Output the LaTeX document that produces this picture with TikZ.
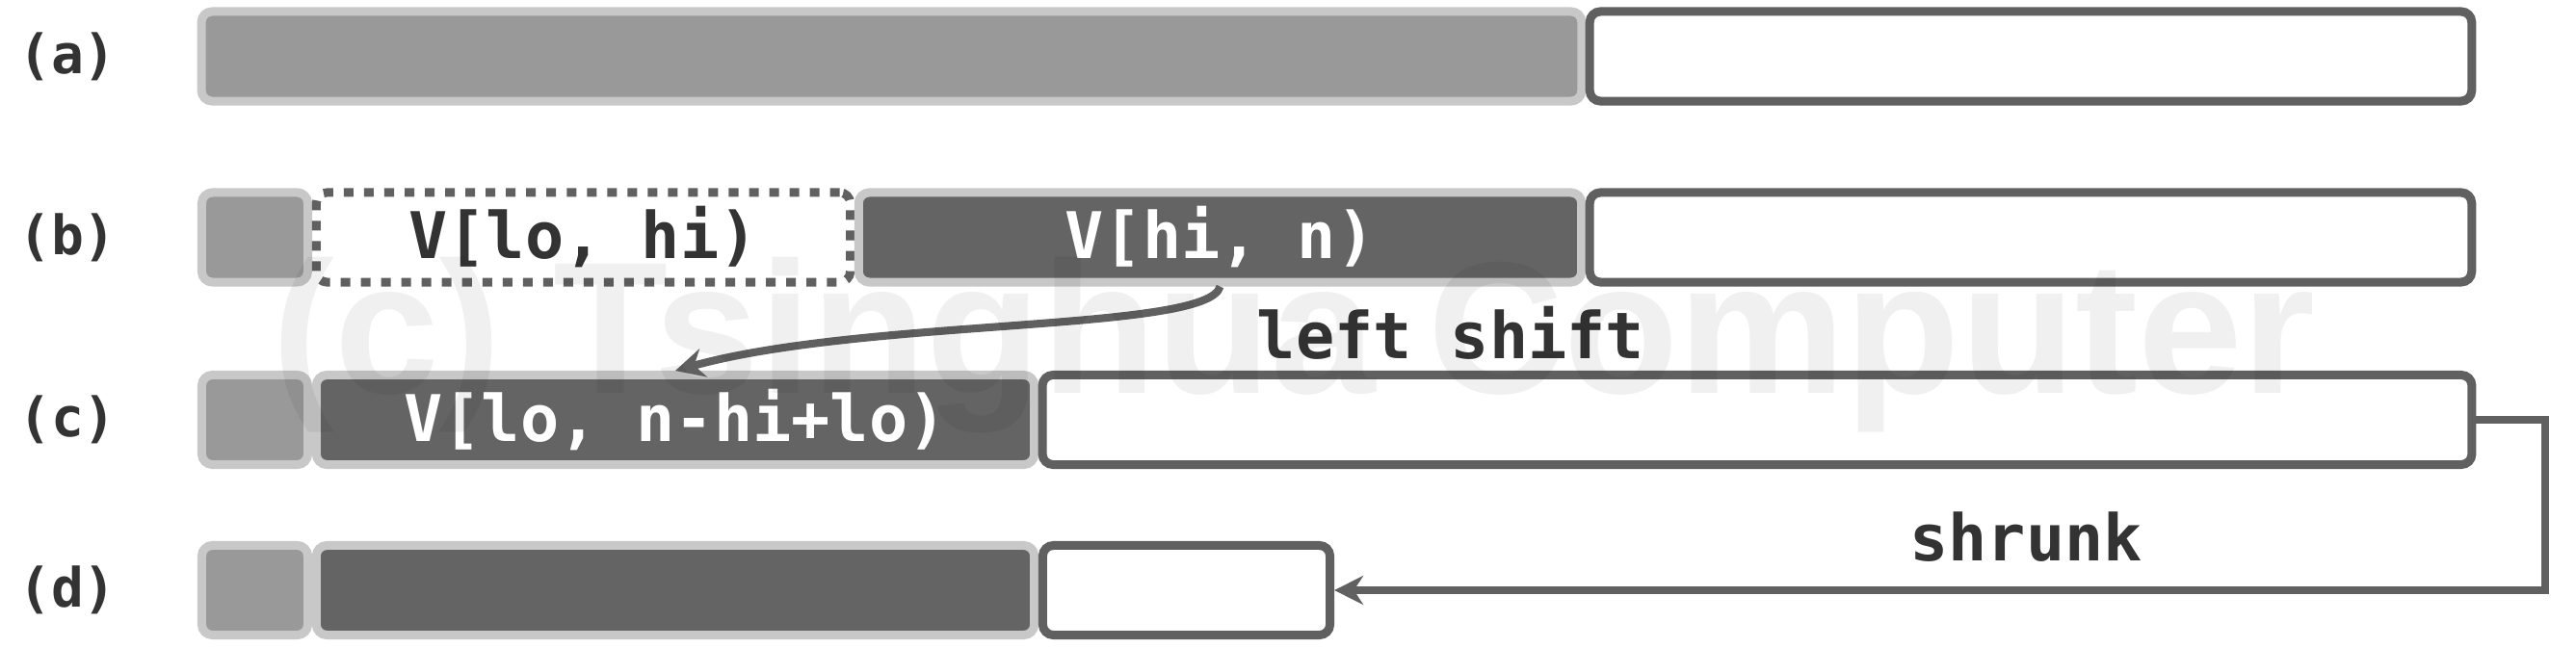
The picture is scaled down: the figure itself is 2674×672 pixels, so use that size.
\documentclass[tikz,border=0pt]{standalone}
\usepackage{fontspec}
\setmonofont{DejaVu Sans Mono}
\newfontfamily\wmfont{Liberation Sans}
\usetikzlibrary{arrows.meta}
\definecolor{midg}{HTML}{999999}
\definecolor{darkf}{HTML}{646464}
\definecolor{lbord}{HTML}{C8C8C8}
\definecolor{dbord}{HTML}{606060}
\definecolor{txt}{HTML}{333333}
\begin{document}
\begin{tikzpicture}[x=0.01cm, y=-0.01cm,
  cell/.style={rounded corners=0.11cm, line width=2.56pt, inner sep=0pt,
    minimum height=0.93cm, font=\fontsize{19}{23}\selectfont\ttfamily\bfseries},
  lbox/.style={cell, draw=lbord, fill=midg},
  dbox/.style={cell, draw=lbord, fill=darkf, text=white},
  wbox/.style={cell, draw=dbord, fill=white},
  dotbox/.style={cell, draw=dbord, fill=white, dash pattern=on 2.85pt off 3.13pt, text=txt},
  rowlab/.style={text=txt, font=\fontsize{16}{19}\selectfont\ttfamily\bfseries},
  lab/.style={text=txt, font=\fontsize{19}{23}\selectfont\ttfamily\bfseries},
  conn/.style={draw=dbord, line width=2.3pt, -{Stealth[length=0.3cm,width=0.3cm]}}
]
\useasboundingbox (0,0) rectangle (2674,672);
% row labels
\node[rowlab] (la) at (70,58.5) {(a)};
\node[rowlab] (lb) at (70,246.5) {(b)};
\node[rowlab] (lc) at (70,436) {(c)};
\node[rowlab] (ld) at (70,613) {(d)};
% row a
\node[lbox, minimum width=14.32cm] (A1) at (925.5,58.5) {};
\node[wbox, minimum width=9.15cm] (A2) at (2108,58.5) {};
% row b
\node[lbox, minimum width=1.10cm] (B1) at (264.5,246.5) {};
\node[dotbox, minimum width=5.54cm] (B2) at (605.5,246.5) {V[lo, hi)};
\node[dbox, minimum width=7.50cm] (B3) at (1266.5,246.5) {V[hi, n)};
\node[wbox, minimum width=9.15cm] (B4) at (2108,246.5) {};
% row c
\node[lbox, minimum width=1.10cm] (C1) at (264.5,436) {};
\node[dbox, minimum width=7.45cm] (C2) at (701,436) {V[lo, n-hi+lo)};
\node[wbox, minimum width=14.83cm] (C3) at (1824,436) {};
% row d
\node[lbox, minimum width=1.10cm] (D1) at (264.5,613) {};
\node[dbox, minimum width=7.45cm] (D2) at (701,613) {};
\node[wbox, minimum width=2.98cm] (D3) at (1231.5,613) {};
% connectors
\draw[conn] (B3.south) .. controls (1255,345) and (900,330) .. (C2.north);
\node[lab] (ls) at (1506,346) {left shift};
\draw[conn] (C3.east) -- ++(72,0) |- (D3.east);
\node[lab] (sh) at (2103,558) {shrunk};
% watermark
\node[anchor=base, text=black, text opacity=0.06,
  font=\wmfont\bfseries\fontsize{55.5}{61}\selectfont] (wm) at (1343,408) {(c) Tsinghua Computer};
\end{tikzpicture}
\end{document}
